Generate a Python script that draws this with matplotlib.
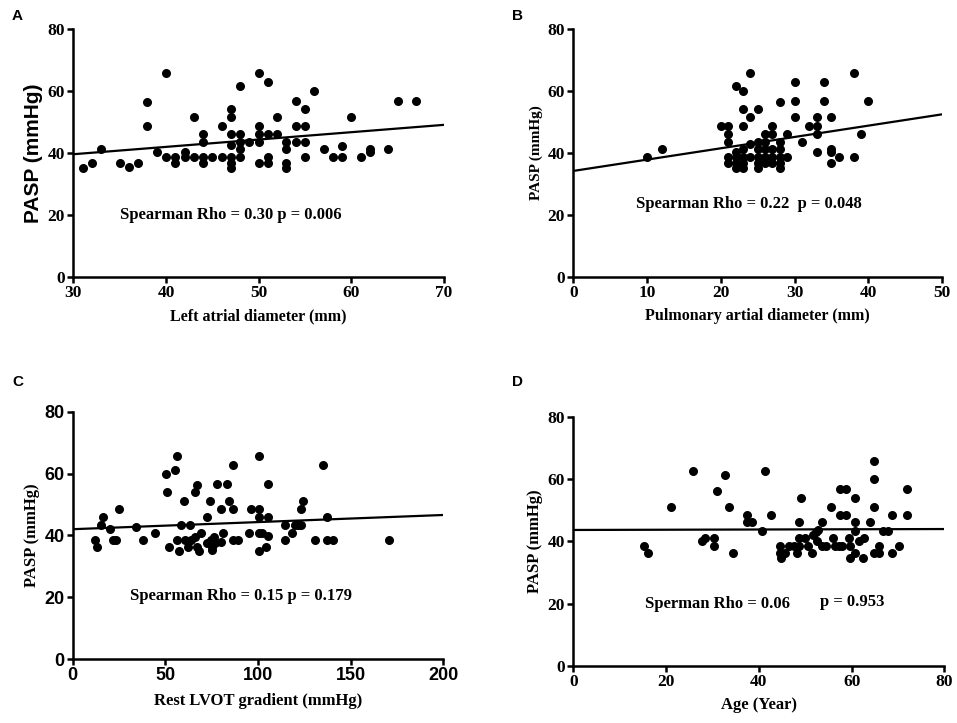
import numpy as np
import matplotlib.pyplot as plt

# Panel A: left atrial diameter vs PASP
la_x = [31, 32, 33, 35, 36, 37, 38, 38, 39, 40, 40, 41, 41, 42, 42, 43, 43, 44, 44, 44, 44,
        45, 46, 46, 47, 47, 47, 47, 47, 47, 47, 48, 48, 48, 48, 48, 49, 50, 50, 50, 50, 50,
        51, 51, 51, 51, 52, 52, 53, 53, 53, 53, 54, 54, 54, 55, 55, 55, 55, 56, 57, 58, 59,
        59, 60, 61, 62, 62, 64, 65, 67]
la_y = [35.3, 36.7, 41.3, 36.7, 35.6, 36.7, 56.6, 48.8, 40.2, 66.0, 38.8, 38.8, 36.7, 40.2, 38.8,
        51.5, 38.8, 46.1, 43.7, 38.8, 36.7, 38.8, 48.8, 38.8, 54.1, 51.5, 46.1, 42.6, 38.8, 36.7,
        35.3, 61.5, 46.1, 43.7, 41.3, 38.8, 43.7, 66.0, 48.8, 46.1, 43.7, 36.7, 63.0, 46.1, 38.8,
        36.7, 51.5, 46.1, 43.7, 41.3, 36.7, 35.3, 56.9, 48.8, 43.7, 54.1, 48.8, 43.7, 38.8, 59.9,
        41.3, 38.8, 42.3, 38.8, 51.5, 38.8, 41.3, 40.2, 41.3, 56.9, 56.9]
la_fit = [39.6, 49.1]

# Panel B: pulmonary artery diameter vs PASP
pa_x = [10, 12, 20, 21, 21, 21, 21, 21, 22, 22, 22, 22, 22, 23, 23, 23, 23, 23, 23, 23,
        24, 24, 24, 24, 25, 25, 25, 25, 25, 25, 26, 26, 26, 26, 26, 27, 27, 27, 27, 27,
        28, 28, 28, 28, 28, 28, 29, 29, 30, 30, 30, 31, 32, 33, 33, 33, 33, 34, 34, 35,
        35, 35, 35, 36, 38, 38, 39, 40]
pa_y = [38.8, 41.3, 48.8, 48.8, 46.1, 43.7, 38.8, 36.7, 61.5, 40.2, 38.8, 36.7, 35.3, 59.9,
        54.1, 48.8, 41.3, 38.8, 36.7, 35.3, 66.0, 51.5, 42.9, 38.8, 54.1, 43.7, 41.3, 38.8,
        36.7, 35.3, 46.1, 43.7, 41.3, 38.8, 36.7, 48.8, 46.1, 41.3, 38.8, 36.7, 56.6, 43.7,
        41.3, 38.8, 36.7, 35.3, 46.1, 38.8, 63.0, 56.9, 51.5, 43.7, 48.8, 51.5, 48.8, 46.1,
        40.2, 63.0, 56.9, 51.5, 41.3, 40.2, 36.7, 38.8, 66.0, 38.8, 46.1, 56.9]
pa_fit = [34.2, 52.5]

# Panel C: rest LVOT gradient vs PASP
lvot_x = [11.9, 12.9, 15.1, 16.2, 20.1, 21.7, 23.4, 25.2, 34.1, 38.1, 44.2, 50.3, 51.0, 52.1,
          55.3, 56.1, 56.1, 57.1, 58.2, 60.0, 60.4, 62.2, 63.3, 64.0, 66.1, 67.2, 66.1, 67.2,
          68.1, 69.0, 72.2, 72.6, 74.0, 74.4, 75.3, 76.2, 76.5, 75.3, 78.0, 79.8, 80.1, 81.2,
          83.0, 84.1, 86.3, 86.3, 86.6, 89.1, 95.2, 96.3, 100.3, 100.3, 100.3, 100.3, 100.3,
          102.1, 104.2, 105.1, 105.1, 105.1, 114.3, 114.3, 118.2, 120.0, 121.5, 123.3, 123.3,
          124.3, 130.5, 135.1, 137.3, 137.3, 140.5, 170.5]
lvot_y = [38.5, 36.4, 43.3, 46.0, 42.0, 38.5, 38.5, 48.5, 42.6, 38.5, 40.9, 59.7, 53.9, 36.4,
          61.2, 65.7, 38.5, 35.0, 43.3, 51.1, 38.5, 36.4, 43.3, 38.5, 53.9, 56.4, 39.6, 36.4,
          35.0, 40.9, 46.0, 37.5, 51.1, 38.5, 36.4, 39.6, 37.5, 35.3, 56.6, 48.5, 38.0, 40.9,
          56.6, 51.1, 62.7, 48.5, 38.5, 38.5, 40.9, 48.5, 65.7, 48.5, 46.0, 40.9, 35.0, 40.9,
          36.4, 56.6, 46.0, 39.9, 43.3, 38.5, 40.9, 43.3, 43.3, 43.3, 48.5, 51.1, 38.5, 62.7,
          46.0, 38.5, 38.5, 38.5]
lvot_fit = [42.0, 46.6]

# Panel D: age vs PASP
age_x = [15.2, 16.2, 21.1, 25.9, 27.7, 28.4, 30.4, 30.4, 30.9, 32.7, 33.5, 34.4, 37.5, 37.5,
         38.6, 40.6, 41.4, 42.6, 44.5, 44.5, 44.8, 45.7, 46.6, 47.5, 48.3, 48.6, 48.6, 48.6,
         49.1, 49.9, 50.7, 51.5, 51.7, 52.3, 52.8, 52.5, 53.6, 53.6, 54.4, 55.6, 55.9, 56.4,
         57.2, 57.6, 57.6, 57.9, 58.8, 58.8, 59.5, 59.7, 59.7, 60.8, 60.8, 60.8, 60.8, 61.7,
         62.7, 62.5, 63.9, 64.8, 64.8, 64.8, 64.8, 65.8, 65.8, 66.8, 67.8, 68.8, 68.8, 70.3,
         71.9, 71.9]
age_y = [38.6, 36.4, 51.1, 62.8, 40.0, 41.1, 41.1, 38.6, 56.4, 61.3, 51.1, 36.4, 48.6, 46.2,
         46.2, 43.5, 62.8, 48.6, 38.6, 36.4, 34.8, 36.4, 38.6, 38.6, 36.4, 38.6, 41.1, 46.2,
         54.1, 41.1, 38.6, 36.4, 42.2, 43.2, 43.8, 40.0, 46.2, 38.6, 38.6, 51.1, 41.1, 38.6,
         38.6, 56.8, 48.6, 38.6, 56.8, 48.6, 41.1, 34.8, 38.6, 54.1, 46.2, 43.5, 36.4, 40.0,
         41.1, 34.8, 46.2, 65.9, 60.0, 51.1, 36.4, 38.6, 36.4, 43.5, 43.5, 48.6, 36.4, 38.6,
         56.8, 48.6]
age_fit = [43.7, 44.0]

SERIF = 'Liberation Serif'
SANS = 'Liberation Sans'


def style_axes(ax, xlim, xticks, tick_font, tick_size):
    for side in ['top', 'right']:
        ax.spines[side].set_visible(False)
    for side in ['left', 'bottom']:
        ax.spines[side].set_linewidth(1.8)
    ax.set_xlim(*xlim)
    ax.set_ylim(0, 80)
    ax.set_xticks(xticks)
    ax.set_yticks([0, 20, 40, 60, 80])
    ax.tick_params(width=1.8, length=4, direction='out', pad=2)
    for lab in ax.get_xticklabels() + ax.get_yticklabels():
        lab.set_fontfamily(tick_font)
        lab.set_fontweight('bold')
        lab.set_fontsize(tick_size)


def draw(ax, x, y, fit, xlim):
    ax.scatter(x, y, s=30, color='black', zorder=3, clip_on=False)
    ax.plot(xlim, fit, color='black', lw=1.6, zorder=2)


fig = plt.figure(figsize=(9.57, 7.23), dpi=100)

axA = fig.add_axes([0.0766, 0.6173, 0.3874, 0.3422])
draw(axA, la_x, la_y, la_fit, [30, 70])
style_axes(axA, (30, 70), [30, 40, 50, 60, 70], SERIF, 12.5)
axA.set_xlabel('Left atrial diameter (mm)', family=SERIF, weight='bold', fontsize=11.5, labelpad=5)
axA.set_ylabel('PASP (mmHg)', family=SANS, weight='bold', fontsize=15, labelpad=3)
axA.text(35, 20, 'Spearman Rho = 0.30 p = 0.006', family=SERIF, weight='bold',
         fontsize=12, va='center', ha='left')

axB = fig.add_axes([0.5991, 0.6173, 0.3853, 0.3422])
draw(axB, pa_x, pa_y, pa_fit, [0, 50])
style_axes(axB, (0, 50), [0, 10, 20, 30, 40, 50], SERIF, 12.5)
axB.set_xlabel('Pulmonary artial diameter (mm)', family=SERIF, weight='bold', fontsize=11.5, labelpad=5)
axB.set_ylabel('PASP (mmHg)', family=SERIF, weight='bold', fontsize=11, labelpad=3)
axB.text(8.5, 23.4, 'Spearman Rho = 0.22  p = 0.048', family=SERIF, weight='bold',
         fontsize=12, va='center', ha='left')

axC = fig.add_axes([0.0760, 0.0885, 0.3873, 0.342])
draw(axC, lvot_x, lvot_y, lvot_fit, [0, 200])
style_axes(axC, (0, 200), [0, 50, 100, 150, 200], SANS, 13)
axC.set_xlabel('Rest LVOT gradient (mmHg)', family=SERIF, weight='bold', fontsize=12, labelpad=6)
axC.set_ylabel('PASP (mmHg)', family=SERIF, weight='bold', fontsize=12, labelpad=3)
axC.text(30.9, 20.4, 'Spearman Rho = 0.15 p = 0.179', family=SERIF, weight='bold',
         fontsize=12, va='center', ha='left')

axD = fig.add_axes([0.5991, 0.0793, 0.3877, 0.3436])
draw(axD, age_x, age_y, age_fit, [0, 80])
style_axes(axD, (0, 80), [0, 20, 40, 60, 80], SERIF, 12.5)
axD.set_xlabel('Age (Year)', family=SERIF, weight='bold', fontsize=12, labelpad=5)
axD.set_ylabel('PASP (mmHg)', family=SERIF, weight='bold', fontsize=12, labelpad=3)
axD.text(15.5, 19.7, 'Sperman Rho = 0.06', family=SERIF, weight='bold',
         fontsize=12, va='center', ha='left')
axD.text(53.1, 20.5, 'p = 0.953', family=SERIF, weight='bold',
         fontsize=12, va='center', ha='left')

for lab, xp, yp in [('A', 12, 16), ('B', 512, 16), ('C', 12, 382), ('D', 512, 382)]:
    fig.text(xp / 957, 1 - yp / 723, lab, family=SANS, weight='bold', fontsize=11,
             ha='left', va='center')

fig.savefig('out.png', dpi=100)
